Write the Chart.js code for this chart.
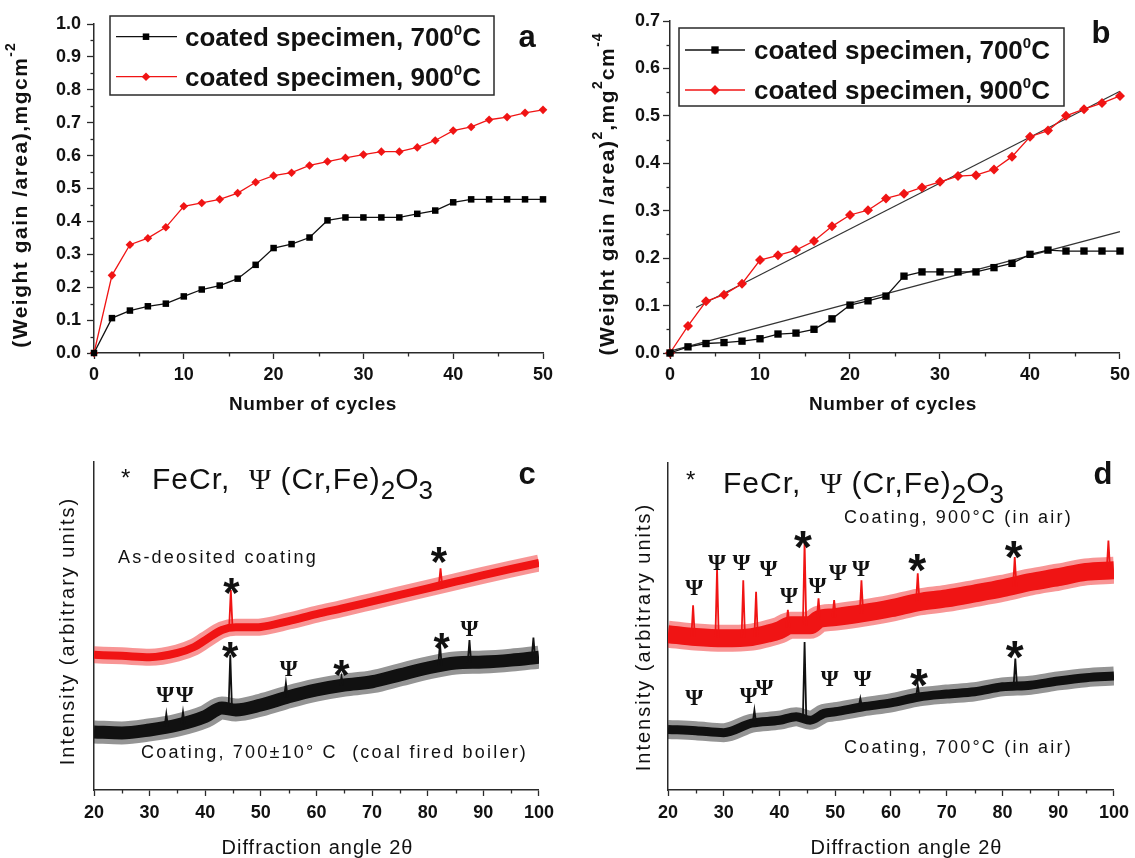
<!DOCTYPE html>
<html><head><meta charset="utf-8">
<script src="https://cdn.jsdelivr.net/npm/chart.js@4.4.1/dist/chart.umd.min.js"></script>
<style>
html,body{margin:0;padding:0;background:#fff;}
#wrap{position:relative;width:1135px;height:858px;overflow:hidden;background:#fff;}
.panel{position:absolute;}
</style></head><body>
<div id="wrap">
 <div class="panel" style="left:0;top:0;width:560px;height:425px"><canvas id="ca"></canvas></div>
 <div class="panel" style="left:560px;top:0;width:575px;height:425px"><canvas id="cb"></canvas></div>
 <div class="panel" style="left:0;top:425px;width:560px;height:433px"><canvas id="cc"></canvas></div>
 <div class="panel" style="left:560px;top:425px;width:575px;height:433px"><canvas id="cd"></canvas></div>
</div>
<script>
// ---------------- DATA ----------------
const cycles   = [0,2,4,6,8,10,12,14,16,18,20,22,24,26,28,30,32,34,36,38,40,42,44,46,48,50];
const gain700  = [0,0.106,0.129,0.142,0.150,0.172,0.193,0.205,0.226,0.268,0.319,0.331,0.351,0.403,0.412,0.412,0.412,0.412,0.423,0.433,0.458,0.467,0.467,0.467,0.467,0.467];
const gain900  = [0,0.236,0.329,0.349,0.382,0.446,0.456,0.467,0.486,0.519,0.539,0.548,0.570,0.582,0.593,0.603,0.612,0.612,0.625,0.646,0.676,0.687,0.709,0.717,0.730,0.739];
const gainSq700 = [0,0.013,0.020,0.022,0.025,0.030,0.040,0.042,0.050,0.072,0.101,0.110,0.120,0.162,0.171,0.171,0.171,0.171,0.180,0.189,0.208,0.217,0.215,0.215,0.215,0.215];
const gainSq900 = [0,0.057,0.109,0.123,0.146,0.196,0.206,0.217,0.236,0.267,0.291,0.301,0.326,0.336,0.349,0.361,0.373,0.375,0.387,0.414,0.456,0.469,0.500,0.514,0.527,0.542];
const fit700Cycles = [0,50];   const fit700Values = [0.004,0.256];
const fit900Cycles = [2.9,50]; const fit900Values = [0.096,0.552];
const seriesNames = ['coated specimen, 700','coated specimen, 900'];

// XRD panel c (band centre levels and peaks, arbitrary units 0-100)
const cRedAngle = [20,25,30,35,38,40,43,45.5,48,50,55,60,65,70,75,80,85,90,95,100];
const cRedLevel = [41.2,40.9,40.5,41.8,43.6,45.7,48.8,49.6,49.6,49.7,51.5,53.6,55.5,57.5,59.5,61.5,63.5,65.5,67.4,69.2];
const cRedPeakAngle = [44.6,82.3];
const cRedPeakTop   = [61.0,67.6];
const cRedPeakFoot  = [49.4,62.4];
const cBlkAngle = [20,25,30,35,40,43,45.5,50,55,60,65,70,75,80,85,90,95,100];
const cBlkLevel = [17.7,17.4,18.3,19.8,22.4,25.0,24.4,25.9,28.4,30.5,32.0,33.0,35.1,37.2,38.7,39.0,39.6,40.5];
const cBlkPeakAngle = [33.0,36.0,44.5,54.5,64.5,82.2,87.5,99.0];
const cBlkPeakTop   = [23.2,23.8,41.2,32.6,34.5,44.8,45.7,46.5];
const cBlkPeakFoot  = [19.4,20.1,25.0,28.3,31.8,37.8,38.8,40.3];

// XRD panel d
const dRedAngle = [20,25,30,35,38,40,42,45.5,47,50,55,60,65,70,75,80,85,90,95,100];
const dRedLevel = [47.6,46.7,46.3,46.7,47.8,48.8,50.3,50.3,52.1,52.8,54.0,55.5,57.4,58.5,60.0,61.6,63.5,65.0,66.6,67.1];
const dRedPeakAngle = [24.5,28.8,33.5,35.8,41.5,44.5,47.0,49.8,54.7,64.8,82.2,99.0];
const dRedPeakTop   = [56.4,67.6,64.0,60.5,55.0,75.7,58.5,58.0,64.0,66.2,71.1,76.2];
const dRedPeakFoot  = [46.8,46.4,46.6,46.8,49.6,50.3,52.1,52.8,54.0,57.4,62.0,67.0];
const dBlkAngle = [20,25,30,35,40,43,45.5,48,50,55,60,65,70,75,80,85,90,95,100];
const dBlkLevel = [18.5,18.1,17.5,20.4,21.3,22.4,21.3,23.4,23.9,25.4,26.6,28.4,29.3,30.0,31.5,32.0,33.3,34.3,34.8];
const dBlkPeakAngle = [35.5,44.5,54.5,64.8,82.3];
const dBlkPeakTop   = [24.4,45.2,28.0,32.0,40.1];
const dBlkPeakFoot  = [20.5,22.0,25.4,28.4,31.8];

// phase markers (angle, level, symbol)
const cMarkAngle = [44.7,82.0,44.5,64.5,82.5,32.8,36.3,55.0,87.5];
const cMarkLevel = [63.1,72.3,43.3,38.1,46.3,29.0,29.0,37.2,49.4];
const cMarkSym   = ['*','*','*','*','*','Ψ','Ψ','Ψ','Ψ'];
const dMarkAngle = [44.2,64.7,82.0,24.7,28.8,33.2,38.0,41.7,46.8,50.5,54.6,65.0,82.2,24.7,34.5,37.3,49.0,54.9];
const dMarkLevel = [77.1,70.1,74.1,61.9,69.5,69.5,67.7,59.5,62.5,66.5,67.7,35.1,43.6,28.4,29.0,31.4,34.1,34.1];
const dMarkSym   = ['*','*','*','Ψ','Ψ','Ψ','Ψ','Ψ','Ψ','Ψ','Ψ','*','*','Ψ','Ψ','Ψ','Ψ','Ψ'];

// ---------------- HELPERS ----------------
const SANS = '"Liberation Sans", Arial, Helvetica, sans-serif';
const SERIF = '"Liberation Serif", "Times New Roman", serif';
const AXIS = '#2a2a2a';
const RED = '#f01414';
const BLK = '#111111';
Chart.defaults.font.family = SANS;
Chart.defaults.color = '#111';

const pts = (xs, ys) => xs.map((x,i)=>({x, y: ys[i]}));
function peakPts(xs, tops, feet, hw){
  const out=[];
  xs.forEach((x,i)=>{ out.push({x:x-hw,y:feet[i]},{x:x,y:tops[i]},{x:x+hw,y:feet[i]},{x:x+hw,y:null}); });
  return out;
}
function fontStr(s){ return `${s.weight||'normal'} ${s.size}px ${s.family||SANS}`; }
function drawRich(ctx, segs, x, y, align){
  const ws=[]; let total=0;
  for(const s of segs){ ctx.font=fontStr(s); ctx.letterSpacing=(s.ls||0)+'px'; const w=ctx.measureText(s.t).width; ws.push(w); total+=w; }
  let cx = align==='center' ? x-total/2 : (align==='right' ? x-total : x);
  segs.forEach((s,i)=>{ ctx.font=fontStr(s); ctx.letterSpacing=(s.ls||0)+'px'; ctx.fillText(s.t, cx, y+(s.dy||0)); cx+=ws[i]; });
  ctx.letterSpacing='0px';
}

const deco = {
  id:'deco',
  afterDraw(chart, args, o){
    const ctx=chart.ctx, ca=chart.chartArea, xs=chart.scales.x, ys=chart.scales.y;
    const ox=o.ox||0, oy=o.oy||0;
    ctx.save();
    ctx.strokeStyle=AXIS; ctx.lineWidth=1.3;
    if(o.minorX){
      for(let v=xs.min; v<=xs.max+1e-9; v+=o.minorX){
        const r=v/o.majorX; if(Math.abs(r-Math.round(r))<1e-6) continue;
        const px=Math.round(xs.getPixelForValue(v))+0.5;
        ctx.beginPath(); ctx.moveTo(px, ca.bottom); ctx.lineTo(px, ca.bottom+o.minorLen); ctx.stroke();
      }
    }
    if(o.minorY){
      for(let v=ys.min; v<=ys.max+1e-9; v+=o.minorY){
        const r=v/o.majorY; if(Math.abs(r-Math.round(r))<1e-6) continue;
        const py=Math.round(ys.getPixelForValue(v))+0.5;
        ctx.beginPath(); ctx.moveTo(ca.left, py); ctx.lineTo(ca.left-o.minorLen, py); ctx.stroke();
      }
    }
    ctx.textAlign='left';
    for(const t of (o.texts||[])){
      ctx.fillStyle=t.color||'#111';
      ctx.textBaseline=t.baseline||'middle';
      const x=t.x-ox, y=t.y-oy;
      if(t.rotate){ ctx.save(); ctx.translate(x,y); ctx.rotate(-Math.PI/2); drawRich(ctx,t.segs,0,0,'center'); ctx.restore(); }
      else drawRich(ctx,t.segs,x,y,t.align||'left');
    }
    if(o.marks){
      ctx.fillStyle='#111'; ctx.textAlign='center'; ctx.textBaseline='alphabetic'; ctx.letterSpacing='0px';
      o.marks.sym.forEach((s,i)=>{
        const px=xs.getPixelForValue(o.marks.x[i]), py=ys.getPixelForValue(o.marks.y[i]);
        if(s==='*'){ ctx.font=`bold ${o.marks.star}px ${SANS}`; ctx.fillText('*', px, py+0.56*o.marks.star); }
        else { ctx.font=`bold ${o.marks.psi}px ${SERIF}`; ctx.fillText(s, px, py+0.33*o.marks.psi); }
      });
    }
    if(o.legend){
      const L=o.legend; const [x1,y1,x2,y2]=L.box;
      ctx.strokeStyle=AXIS; ctx.lineWidth=1.5;
      ctx.strokeRect(x1-ox, y1-oy, x2-x1, y2-y1);
      L.rows.forEach(r=>{
        const ds=chart.data.datasets[r.ds];
        const y=r.y-oy;
        ctx.strokeStyle=ds.borderColor; ctx.lineWidth=ds.borderWidth;
        ctx.beginPath(); ctx.moveTo(r.x1-ox,y); ctx.lineTo(r.x2-ox,y); ctx.stroke();
        ctx.fillStyle=ds.backgroundColor; ctx.strokeStyle=ds.backgroundColor;
        Chart.helpers.drawPoint(ctx,{pointStyle:ds.pointStyle,radius:ds.pointRadius,rotation:0,borderWidth:0}, r.mx-ox, y);
        ctx.fillStyle='#111'; ctx.textAlign='left'; ctx.textBaseline='alphabetic';
        drawRich(ctx,[{t:ds.label,size:26,weight:'bold'},{t:'0',size:15,weight:'bold',dy:-11},{t:'C',size:26,weight:'bold'}], r.tx-ox, y+9.4,'left');
      });
    }
    ctx.restore();
  }
};
Chart.register(deco);

function axisX(min,max,step,height,pad){
  return {type:'linear',min,max,afterFit:s=>{s.height=height;},
    border:{color:AXIS,width:1.5},
    grid:{drawOnChartArea:false,tickLength:6,tickColor:AXIS,tickWidth:1.3},
    ticks:{stepSize:step,padding:pad,maxRotation:0,autoSkip:false,color:'#111',font:{size:18,weight:'bold',family:SANS}}};
}
function axisY(min,max,step,width,pad){
  return {type:'linear',min,max,afterFit:s=>{s.width=width;},
    border:{color:AXIS,width:1.5},
    grid:{drawOnChartArea:false,tickLength:7,tickColor:AXIS,tickWidth:1.3},
    ticks:{stepSize:step,padding:pad,autoSkip:false,color:'#111',font:{size:18,weight:'bold',family:SANS},callback:v=>v.toFixed(1)}};
}
function axisYBlank(width){
  return {type:'linear',min:0,max:100,afterFit:s=>{s.width=width;},
    border:{color:AXIS,width:1.5},
    grid:{display:true,drawOnChartArea:false,drawTicks:false},
    ticks:{display:false}};
}
const base = {responsive:true,maintainAspectRatio:false,animation:false,devicePixelRatio:1,
  plugins:{legend:{display:false},tooltip:{enabled:false}}};

// ---------------- PANEL a ----------------
new Chart(document.getElementById('ca'),{
  type:'line',
  data:{datasets:[
    {label:seriesNames[0],data:pts(cycles,gain700),borderColor:BLK,backgroundColor:'#000',borderWidth:1.3,pointStyle:'rect',pointRadius:4.6,pointBorderWidth:0,clip:false},
    {label:seriesNames[1],data:pts(cycles,gain900),borderColor:RED,backgroundColor:RED,borderWidth:1.3,pointStyle:'rectRot',pointRadius:4.3,pointBorderWidth:0,clip:false}
  ]},
  options:{...base,
    layout:{padding:{left:0,top:24,right:17,bottom:0}},
    scales:{x:axisX(0,50,10,72,5),y:axisY(0,1,0.1,94,6)},
    plugins:{...base.plugins,deco:{ox:0,oy:0,minorX:5,majorX:10,minorY:0.05,majorY:0.1,minorLen:3.5,
      texts:[
        {segs:[{t:'Number of cycles',size:19,weight:'bold',ls:0.6}],x:313,y:405,align:'center'},
        {segs:[{t:'(Weight gain /area),mgcm',size:21,weight:'bold',ls:1.5},{t:'-2',size:14,weight:'bold',ls:1,dy:-10}],x:21.5,y:195,rotate:true},
        {segs:[{t:'a',size:31,weight:'bold'}],x:527,y:38,align:'center'}
      ],
      legend:{box:[110,16,494,95],rows:[{ds:0,y:36.7,x1:116,x2:177,mx:146,tx:185},{ds:1,y:76.7,x1:116,x2:177,mx:146,tx:185}]}
    }}
  }
});

// ---------------- PANEL b ----------------
new Chart(document.getElementById('cb'),{
  type:'line',
  data:{datasets:[
    {label:seriesNames[0],data:pts(cycles,gainSq700),borderColor:BLK,backgroundColor:'#000',borderWidth:1.3,pointStyle:'rect',pointRadius:5.2,pointBorderWidth:0,clip:false},
    {label:seriesNames[1],data:pts(cycles,gainSq900),borderColor:RED,backgroundColor:RED,borderWidth:1.3,pointStyle:'rectRot',pointRadius:5,pointBorderWidth:0,clip:false},
    {label:'fit700',data:pts(fit700Cycles,fit700Values),borderColor:'#333',borderWidth:1.2,pointRadius:0,clip:false},
    {label:'fit900',data:pts(fit900Cycles,fit900Values),borderColor:'#333',borderWidth:1.2,pointRadius:0,clip:false}
  ]},
  options:{...base,
    layout:{padding:{left:0,top:21,right:15,bottom:0}},
    scales:{x:axisX(0,50,10,72,5),y:axisY(0,0.7,0.1,110,3)},
    plugins:{...base.plugins,deco:{ox:560,oy:0,minorX:5,majorX:10,minorY:0.05,majorY:0.1,minorLen:3.5,
      texts:[
        {segs:[{t:'Number of cycles',size:19,weight:'bold',ls:0.6}],x:893,y:405,align:'center'},
        {segs:[{t:'(Weight gain /area)',size:21,weight:'bold',ls:1.5},{t:'2',size:14,weight:'bold',ls:1,dy:-10},
               {t:',mg',size:21,weight:'bold',ls:1.5},{t:'2',size:14,weight:'bold',ls:1,dy:-10},
               {t:'cm',size:21,weight:'bold',ls:1.5},{t:'-4',size:14,weight:'bold',ls:1,dy:-10}],x:608,y:194,rotate:true},
        {segs:[{t:'b',size:31,weight:'bold'}],x:1101,y:34,align:'center'}
      ],
      legend:{box:[679,28,1064,106],rows:[{ds:0,y:50,x1:685,x2:745,mx:715,tx:754},{ds:1,y:90,x1:685,x2:745,mx:715,tx:754}]}
    }}
  }
});

// ---------------- XRD helpers ----------------
function band(xs,ys,color,w){
  return {data:pts(xs,ys),borderColor:color,borderWidth:w,pointRadius:0,cubicInterpolationMode:'monotone',borderJoinStyle:'round'};
}
function xrdSets(redX,redY,redPX,redPT,redPF,redW,blkX,blkY,blkPX,blkPT,blkPF,blkW){
  return [
    {data:peakPts(redPX,redPT,redPF,0.3),borderColor:RED,borderWidth:1.8,pointRadius:0,spanGaps:false},
    band(redX,redY,RED,redW-4),
    band(redX,redY,'rgba(240,20,20,0.45)',redW+5),
    {data:peakPts(blkPX,blkPT,blkPF,0.3),borderColor:BLK,borderWidth:1.8,pointRadius:0,spanGaps:false},
    band(blkX,blkY,BLK,blkW-5),
    band(blkX,blkY,'rgba(17,17,17,0.45)',blkW+5)
  ];
}
const headerSegs = [{t:'FeCr,  ',size:30,ls:1},{t:'Ψ',size:30,family:SERIF},{t:' (Cr,Fe)',size:30,ls:1},{t:'2',size:26,dy:10},{t:'O',size:30},{t:'3',size:26,dy:10}];
const annot = t => [{t,size:18,ls:2.2}];

// ---------------- PANEL c ----------------
new Chart(document.getElementById('cc'),{
  type:'line',
  data:{datasets:xrdSets(cRedAngle,cRedLevel,cRedPeakAngle,cRedPeakTop,cRedPeakFoot,12,
                         cBlkAngle,cBlkLevel,cBlkPeakAngle,cBlkPeakTop,cBlkPeakFoot,18)},
  options:{...base,
    layout:{padding:{left:0,top:37,right:16,bottom:0}},
    scales:{x:axisX(20,100,10,68,6),y:axisYBlank(94)},
    plugins:{...base.plugins,deco:{ox:0,oy:425,minorX:5,majorX:10,minorLen:3.5,
      texts:[
        {segs:[{t:'Diffraction angle 2θ',size:20,ls:1}],x:317.5,y:848,align:'center'},
        {segs:[{t:'Intensity (arbitrary units)',size:20,ls:2}],x:68,y:631,rotate:true},
        {segs:[{t:'*',size:24}],x:121,y:486,baseline:'alphabetic'},
        {segs:headerSegs,x:152,y:489,baseline:'alphabetic'},
        {segs:[{t:'c',size:31,weight:'bold'}],x:527,y:475,align:'center'},
        {segs:annot('As-deosited coating'),x:118,y:558},
        {segs:annot('Coating, 700±10° C  (coal fired boiler)'),x:141,y:753}
      ],
      marks:{x:cMarkAngle,y:cMarkLevel,sym:cMarkSym,star:42,psi:23}
    }}
  }
});

// ---------------- PANEL d ----------------
new Chart(document.getElementById('cd'),{
  type:'line',
  data:{datasets:xrdSets(dRedAngle,dRedLevel,dRedPeakAngle,dRedPeakTop,dRedPeakFoot,22,
                         dBlkAngle,dBlkLevel,dBlkPeakAngle,dBlkPeakTop,dBlkPeakFoot,14)},
  options:{...base,
    layout:{padding:{left:0,top:37.5,right:17,bottom:0}},
    scales:{x:axisX(20,100,10,68,6),y:axisYBlank(108)},
    plugins:{...base.plugins,deco:{ox:560,oy:425,minorX:5,majorX:10,minorLen:3.5,
      texts:[
        {segs:[{t:'Diffraction angle 2θ',size:20,ls:1}],x:906.5,y:848,align:'center'},
        {segs:[{t:'Intensity (arbitrary units)',size:20,ls:2}],x:644,y:637,rotate:true},
        {segs:[{t:'*',size:24}],x:686,y:488,baseline:'alphabetic'},
        {segs:headerSegs,x:723,y:493,baseline:'alphabetic'},
        {segs:[{t:'d',size:31,weight:'bold'}],x:1103,y:475,align:'center'},
        {segs:annot('Coating, 900°C (in air)'),x:844,y:518},
        {segs:annot('Coating, 700°C (in air)'),x:844,y:748}
      ],
      marks:{x:dMarkAngle,y:dMarkLevel,sym:dMarkSym,star:46,psi:23}
    }}
  }
});
</script>
</body></html>
